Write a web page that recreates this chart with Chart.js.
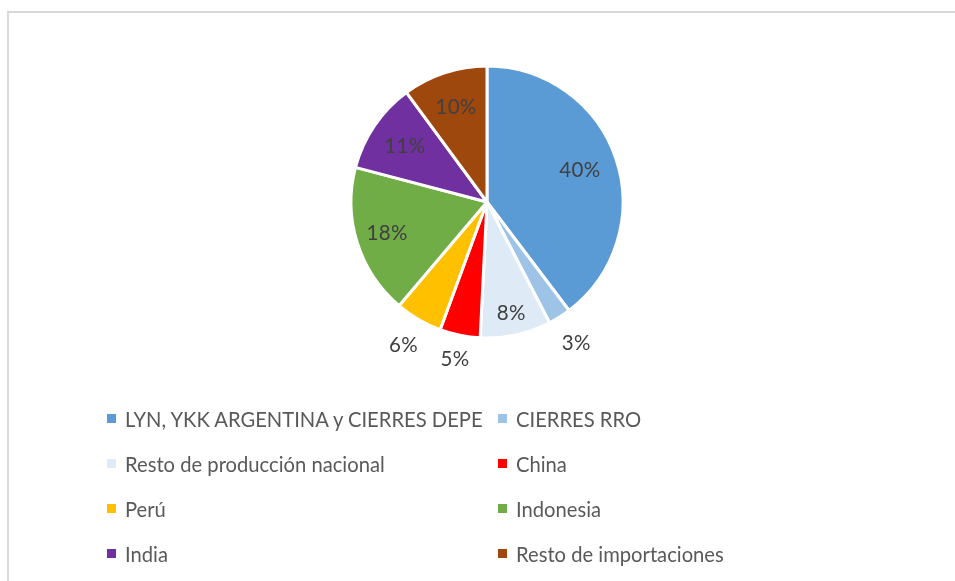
<!DOCTYPE html>
<html>
<head>
<meta charset="utf-8">
<script src="https://cdn.jsdelivr.net/npm/chart.js@4.4.1/dist/chart.umd.min.js"></script>
<style>
body { margin: 0; background: #fff; width: 955px; height: 581px; overflow: hidden; position: relative; font-family: Lato, "Noto Sans", sans-serif; }
#frame { position: absolute; left: 7px; top: 11px; width: 980px; height: 600px; border: 2px solid #d9d9d9; box-sizing: border-box; }
#wrap { position: absolute; left: 0; top: 0; width: 955px; height: 581px; }
.item { position: absolute; height: 24px; line-height: 24px; font-size: 20.2px; color: #595959; white-space: nowrap; }
.item i { position: absolute; left: 0; top: 7px; width: 9px; height: 9px; }
.item span { position: absolute; left: 18px; top: 0; }
</style>
</head>
<body>
<div id="frame"></div>
<div id="wrap"><canvas id="pieChart"></canvas></div>
<div id="legend"></div>
<script>
/* ==========================================
DATA
========================================== */

const categories = [
"LYN, YKK ARGENTINA y CIERRES DEPE",
"CIERRES RRO",
"Resto de producción nacional",
"China",
"Perú",
"Indonesia",
"India",
"Resto de importaciones"
];

const shares = [39.7, 2.7, 8.4, 4.8, 5.6, 17.9, 10.8, 10.1];

const colors = [
"#5b9bd5",
"#9dc3e6",
"#deebf7",
"#ff0000",
"#ffc000",
"#70ad47",
"#7030a0",
"#9e480e"
];

// distance of each percent label from the centre, as a share of the radius
const labelDist = [0.72, 1.23, 0.84, 1.18, 1.22, 0.77, 0.73, 0.73];

/* ==========================================
PERCENT LABELS
========================================== */

const percentLabels = {
id: "percentLabels",
afterDatasetsDraw(chart) {
const ctx = chart.ctx;
const meta = chart.getDatasetMeta(0);
const total = shares.reduce((a, b) => a + b, 0);
ctx.save();
ctx.font = "20.5px Lato, 'Noto Sans', sans-serif";
ctx.letterSpacing = "0.3px";
ctx.fillStyle = "#404040";
ctx.textAlign = "center";
ctx.textBaseline = "middle";
meta.data.forEach((arc, i) => {
const p = arc.getProps(["x", "y", "startAngle", "endAngle", "outerRadius"], true);
const mid = (p.startAngle + p.endAngle) / 2;
const r = p.outerRadius * labelDist[i];
const txt = Math.round(shares[i] / total * 100) + "%";
ctx.fillText(txt, p.x + Math.cos(mid) * r, p.y + Math.sin(mid) * r);
});
ctx.restore();
}
};

new Chart(
document.getElementById("pieChart"),
{
type: "pie",

data: {
labels: categories,
datasets: [{
data: shares,
backgroundColor: colors,
borderColor: "#ffffff",
borderWidth: 3
}]
},

options: {
responsive: true,
maintainAspectRatio: false,
animation: false,
radius: 136,
layout: {
padding: { left: 337, right: 318, top: 52, bottom: 229 }
},
plugins: {
legend: { display: false },
tooltip: { enabled: false }
}
},

plugins: [percentLabels]
}
);

/* ==========================================
LEGEND (two columns)
========================================== */

const legendCols = [107, 498];
const legendRows = [418.5, 463.5, 508.5, 553.5];
const legend = document.getElementById("legend");

categories.forEach((name, i) => {
const div = document.createElement("div");
div.className = "item";
div.style.left = legendCols[i % 2] + "px";
div.style.top = (legendRows[Math.floor(i / 2)] - 11.5) + "px";
div.innerHTML = '<i style="background:' + colors[i] + '"></i><span></span>';
div.querySelector("span").textContent = name;
legend.appendChild(div);
});
</script>
</body>
</html>
